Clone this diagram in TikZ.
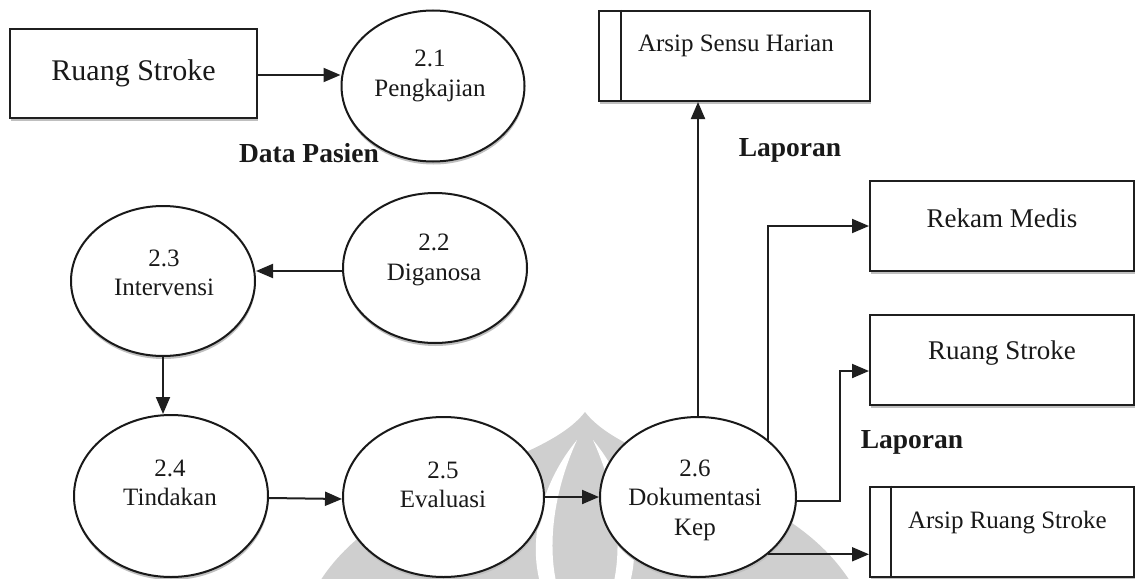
\documentclass[tikz,border=0pt]{standalone}
\usepackage{fontspec}
\setmainfont{Liberation Serif}
\usetikzlibrary{arrows.meta,shapes.geometric,shadows}
\begin{document}
\begin{tikzpicture}[x=1pt,y=-1pt,
  line width=2pt,
  softshadow/.style={drop shadow={shadow xshift=0.5pt,shadow yshift=-3pt,fill=black!25,opacity=1}},
  entity/.style={draw=black!88, fill=white, rectangle, inner sep=0pt, softshadow},
  proc/.style={draw=black!90, fill=white, ellipse, inner sep=0pt, softshadow},
  ptext/.style={align=center, font=\fontsize{25}{29.5}\selectfont, text=black!90, inner sep=0pt},
  etext/.style={font=\fontsize{27}{32}\selectfont, text=black!90, inner sep=0pt},
  stext/.style={font=\fontsize{25}{29}\selectfont, text=black!90, inner sep=0pt, anchor=west},
  flow/.style={draw=black!88, -{Triangle[length=17pt,width=14pt]}},
  tag/.style={font=\fontsize{27.5}{32}\selectfont\bfseries, text=black!90, inner sep=0pt}
]
\useasboundingbox (0,0) rectangle (1137,578);

% faint logo in the background
\fill[black!19] (317,586) .. controls (380,480) and (540,470) .. (585,412)
  .. controls (630,470) and (790,480) .. (853,586) -- cycle;
\fill[white] (577,440) .. controls (542,482) and (527,540) .. (541,586) -- (557,586)
  .. controls (546,540) and (556,486) .. (577,440) -- cycle;
\fill[white] (593,440) .. controls (628,482) and (643,540) .. (629,586) -- (613,586)
  .. controls (624,540) and (614,486) .. (593,440) -- cycle;

% external entities and stores
\node[entity, minimum width=247pt, minimum height=89pt, font=\fontsize{30}{36}\selectfont, text=black!90]
  (rsL) at (133.5,73.5) {Ruang Stroke};
\node[entity, minimum width=271pt, minimum height=90pt] (ash) at (734.5,56) {};
\draw[black!88] ([xshift=23pt]ash.north west) -- ([xshift=23pt]ash.south west);
\node[stext] (asht) at (637,46) {Arsip Sensu Harian};

\node[entity, minimum width=264pt, minimum height=90pt] (rm) at (1002,226) {};
\node[etext] (rmt) at (1002,218) {Rekam Medis};
\node[entity, minimum width=264pt, minimum height=90pt] (rsR) at (1002,360) {};
\node[etext] (rsRt) at (1002,353) {Ruang Stroke};
\node[entity, minimum width=264pt, minimum height=90pt] (ars) at (1002,531.5) {};
\draw[black!88] ([xshift=22pt]ars.north west) -- ([xshift=22pt]ars.south west);
\node[stext] (arst) at (907,523) {Arsip Ruang Stroke};

% processes
\node[proc, minimum width=183pt, minimum height=151pt] (p21) at (433,86) {};
\node[ptext] (p21t) at (430,76) {2.1\\Pengkajian};
\node[proc, minimum width=184pt, minimum height=150pt] (p22) at (435,268) {};
\node[ptext] (p22t) at (434,260) {2.2\\Diganosa};
\node[proc, minimum width=184pt, minimum height=150pt] (p23) at (163,281) {};
\node[ptext] (p23t) at (164,273) {2.3\\Intervensi};
\node[proc, minimum width=194pt, minimum height=162pt] (p24) at (171,496) {};
\node[ptext] (p24t) at (170,483) {2.4\\Tindakan};
\node[proc, minimum width=201pt, minimum height=160pt] (p25) at (443.5,497) {};
\node[ptext] (p25t) at (443,485) {2.5\\Evaluasi};
\node[proc, minimum width=196pt, minimum height=160pt] (p26) at (698,497) {};
\node[ptext] (p26t) at (695,500) {2.6\\Dokumentasi\\Kep};

% flow labels
\node[tag] (lDP) at (309,153) {Data Pasien};
\node[tag] (lL1) at (790,150) {Laporan};
\node[tag] (lL2) at (912,442) {Laporan};

% data flows
\coordinate (j2) at (840,0);
\draw[flow] ([yshift=-1.5pt]rsL.east) -- ([yshift=-1.5pt]rsL.east -| p21.west);
\draw[flow] ([yshift=-3pt]p22.west) -- ([yshift=-3pt]p22.west -| p23.east);
\draw[flow] (p23.south) -- (p23.south |- p24.north);
\draw[flow] ([yshift=-2pt]p24.east) -- ([yshift=-2pt]p25.west);
\draw[flow] (p25.east) -- (p26.west);
\draw[flow] (p26.north) -- (p26.north |- ash.south);
\draw[flow] (p26.north east) |- (rm.west);
\draw[flow] ([yshift=-4pt]p26.east) -- ([yshift=-4pt]p26.east -| j2) |- ([yshift=-11pt]rsR.west);
\draw[flow] (p26.south east) -- (p26.south east -| ars.west);
\end{tikzpicture}
\end{document}
